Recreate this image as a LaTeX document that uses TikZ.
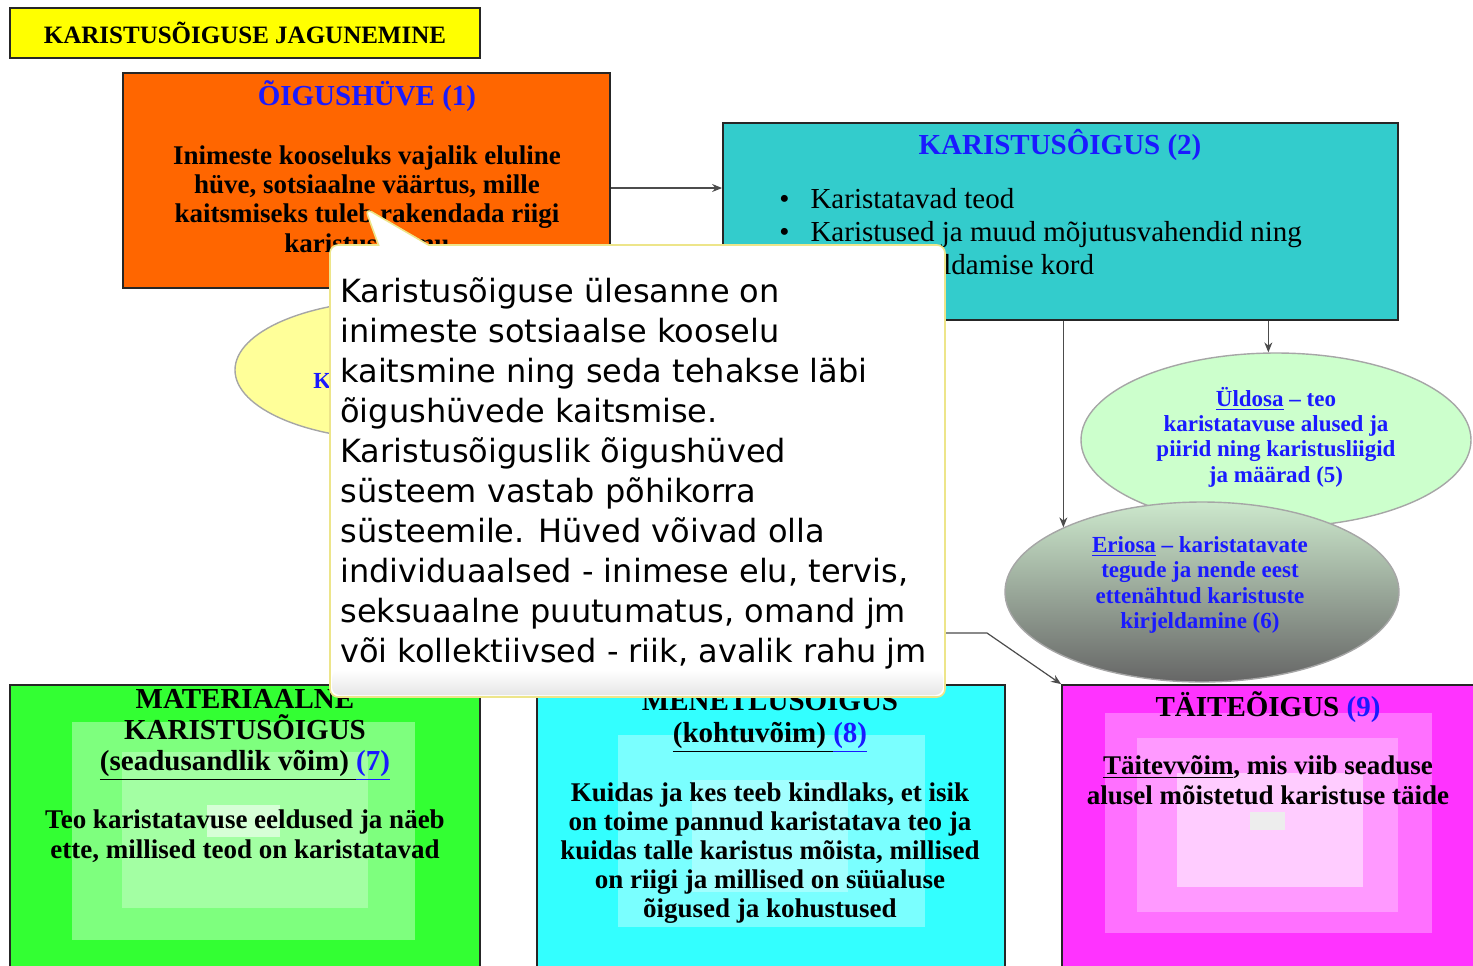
\documentclass[tikz,border=0pt]{standalone}
\usepackage{fontspec}
\setmainfont{Liberation Serif}
\newfontfamily\mullfont{DejaVu Sans}
\usepackage{xcolor}
\usepackage{tikz}
\usetikzlibrary{arrows.meta, shapes.geometric, shapes.callouts, positioning}

\definecolor{kollane}{HTML}{FFFF00}
\definecolor{oranz}{HTML}{FF6600}
\definecolor{tiil}{HTML}{33CCCC}
\definecolor{helekollane}{HTML}{FFFF99}
\definecolor{heleroheline}{HTML}{CCFFCC}
\definecolor{eriylal}{HTML}{CCE8CC}
\definecolor{erikesk}{HTML}{9CC89C}
\definecolor{erialal}{HTML}{666666}
\definecolor{roheline}{HTML}{33FF33}
\definecolor{tsyaan}{HTML}{33FFFF}
\definecolor{lilla}{HTML}{FF33FF}
\definecolor{sinine}{HTML}{1A1AFF}
\definecolor{kollakas}{HTML}{EDE58A}

\begin{document}
\begin{tikzpicture}[x=0.5pt, y=-0.5pt,
		kast/.style={rectangle, draw=black!85, line width=0.9pt, inner sep=0pt},
		ovaal/.style={ellipse, draw=black!35, line width=0.7pt, inner sep=0pt},
		nool/.style={draw=black!70, line width=0.6pt, -{Stealth[length=5pt, width=4pt]}},
		pealk/.style={font=\fontsize{14.5}{16}\selectfont\bfseries, align=center, inner sep=0pt},
		sisu/.style={font=\fontsize{13.5}{14.6}\selectfont\bfseries, align=center, inner sep=0pt},
		ovaaltekst/.style={font=\fontsize{11.5}{12.7}\selectfont\bfseries, text=sinine, align=center, inner sep=0pt},
		sinitekst/.style={text=sinine}
		]
		\path[use as bounding box] (0,0) rectangle (1473,965);
		\clip (0,0) rectangle (1473,965);
		
		% pealkiri
		\node[kast, fill=kollane, minimum width=235pt, minimum height=25pt,
			font=\fontsize{12.5}{14}\selectfont\bfseries] (pealkiri) at (245,33) {KARISTUSÕIGUSE JAGUNEMINE};
		
		% oigushyve
		\node[kast, fill=oranz, minimum width=243.5pt, minimum height=107.5pt] (hyve) at (366.5,180.5) {};
		\node[pealk, sinitekst] (hyvepealk) at (367,96) {ÕIGUSHÜVE (1)};
		\node[sisu] (hyvesisu) at (367,199) {Inimeste kooseluks vajalik eluline\\hüve, sotsiaalne väärtus, mille\\kaitsmiseks tuleb rakendada riigi\\karistusvõimu};
		
		% karistusoigus
		\node[kast, fill=tiil, minimum width=337.5pt, minimum height=98.5pt] (karoigus) at (1060.5,221.5) {};
		\node[pealk, sinitekst] (karpealk) at (1060,145) {KARISTUSÔIGUS (2)};
		\node[anchor=north west, inner sep=0pt, font=\fontsize{14.5}{16.5}\selectfont] (karsisu) at (779,185)
			{\begin{tabular}{@{}l@{\hspace{10.5pt}}l@{}}
				\textbullet & Karistatavad teod\\
				\textbullet & Karistused ja muud mõjutusvahendid ning\\
				& nende kohaldamise kord
			\end{tabular}};
		
		% ellipsid
		\node[ovaal, fill=helekollane, minimum width=165pt, minimum height=70pt] (ylesanne) at (400,370) {};
		\node[ovaaltekst, anchor=west] (ylesandetekst) at (313,381) {K};
		
		\node[ovaal, fill=heleroheline, minimum width=195pt, minimum height=87pt] (yldosa) at (1276,440) {};
		\node[ovaaltekst] (yldtekst) at (1276,437) {\underline{Üldosa} – teo\\karistatavuse alused ja\\piirid ning karistusliigid\\ja määrad (5)};
		
		\node[ovaal, top color=eriylal, middle color=erikesk, bottom color=erialal,
			minimum width=197pt, minimum height=90pt] (eriosa) at (1202,592) {};
		\node[ovaaltekst] (eritekst) at (1200,585) {\underline{Eriosa} – karistatavate\\tegude ja nende eest\\ettenähtud karistuste\\kirjeldamine (6)};
		
		% nooled
		\draw[nool] ([yshift=-3.75pt]hyve.east) -- ([yshift=-3.75pt]hyve.east -| karoigus.west);
		\draw[nool] (yldosa.95 |- karoigus.south) -- (yldosa.95);
		\draw[nool] (eriosa.155 |- karoigus.south) -- (eriosa.155);
		
		% alumised kastid
		\node[kast, fill=roheline, minimum width=235pt, minimum height=150pt] (materiaalne) at (245,835) {};
		\fill[green!20!roheline!60!white] (72,722) rectangle (415,940);
		\fill[roheline!45!white] (122,752) rectangle (368,908);
		\fill[roheline!20!white] (207,805) rectangle (280,837);
		\node[pealk, font=\fontsize{14.5}{15.5}\selectfont\bfseries] (materpealk) at (245,735) {MATERIAALNE\\KARISTUSÕIGUS\\\underline{(seadusandlik võim) }\textcolor{sinine}{\underline{(7)}}};
		\node[sisu, font=\fontsize{13.5}{15}\selectfont\bfseries] (matersisu) at (245,836) {Teo karistatavuse eeldused ja näeb\\ette, millised teod on karistatavad};
		
		\node[kast, fill=tsyaan, minimum width=234pt, minimum height=150pt] (menetlus) at (771,835) {};
		\fill[tsyaan!65!white] (618,735) rectangle (925,927);
		\fill[tsyaan!45!white] (692,780) rectangle (848,892);
		\node[pealk] (menpealk) at (770,719) {MENETLUSÕIGUS\\\underline{(kohtuvõim) }\textcolor{sinine}{\underline{(8)}}};
		\node[sisu] (mensisu) at (770,853) {Kuidas ja kes teeb kindlaks, et isik\\on toime pannud karistatava teo ja\\kuidas talle karistus mõista, millised\\on riigi ja millised on süüaluse\\õigused ja kohustused};
		
		\node[kast, fill=lilla, minimum width=214pt, minimum height=150pt] (taide) at (1276,835) {};
		\fill[lilla!70!white] (1105,713) rectangle (1432,933);
		\fill[lilla!50!white] (1137,738) rectangle (1398,912);
		\fill[lilla!25!white] (1177,773) rectangle (1363,887);
		\fill[black!7] (1250,812) rectangle (1285,830);
		\node[pealk] (taidepealk) at (1268,707) {TÄITEÕIGUS \textcolor{sinine}{(9)}};
		\node[sisu, font=\fontsize{13.5}{15}\selectfont\bfseries] (taidesisu) at (1268,780) {\underline{Täitevvõim}, mis viib seaduse\\alusel mõistetud karistuse täide};
		
		\coordinate (peidus) at (900,633);
		\draw[nool] (peidus) -- (987,633) -- (taide.north west);
		
		% selgitusmull
		\node[rectangle callout, draw=kollakas, line width=0.8pt, fill=white, rounded corners=4pt,
			minimum width=307.5pt, minimum height=226pt,
			callout absolute pointer={(365,208)}, callout pointer width=25pt] (mull) at (637.5,471) {};
		\shade[top color=white, bottom color=black!10, rounded corners=4pt] (332,670) rectangle (943,695);
		\node[anchor=west, inner sep=0pt, align=left, font=\mullfont\fontsize{16}{20}\selectfont] (mulltekst) at (340,473)
			{Karistusõiguse ülesanne on\\inimeste sotsiaalse kooselu\\kaitsmine ning seda tehakse läbi\\õigushüvede kaitsmise.\\Karistusõiguslik õigushüved\\süsteem vastab põhikorra\\süsteemile. Hüved võivad olla\\individuaalsed - inimese elu, tervis,\\seksuaalne puutumatus, omand jm\\või kollektiivsed - riik, avalik rahu jm};
		
	\end{tikzpicture}
\end{document}
